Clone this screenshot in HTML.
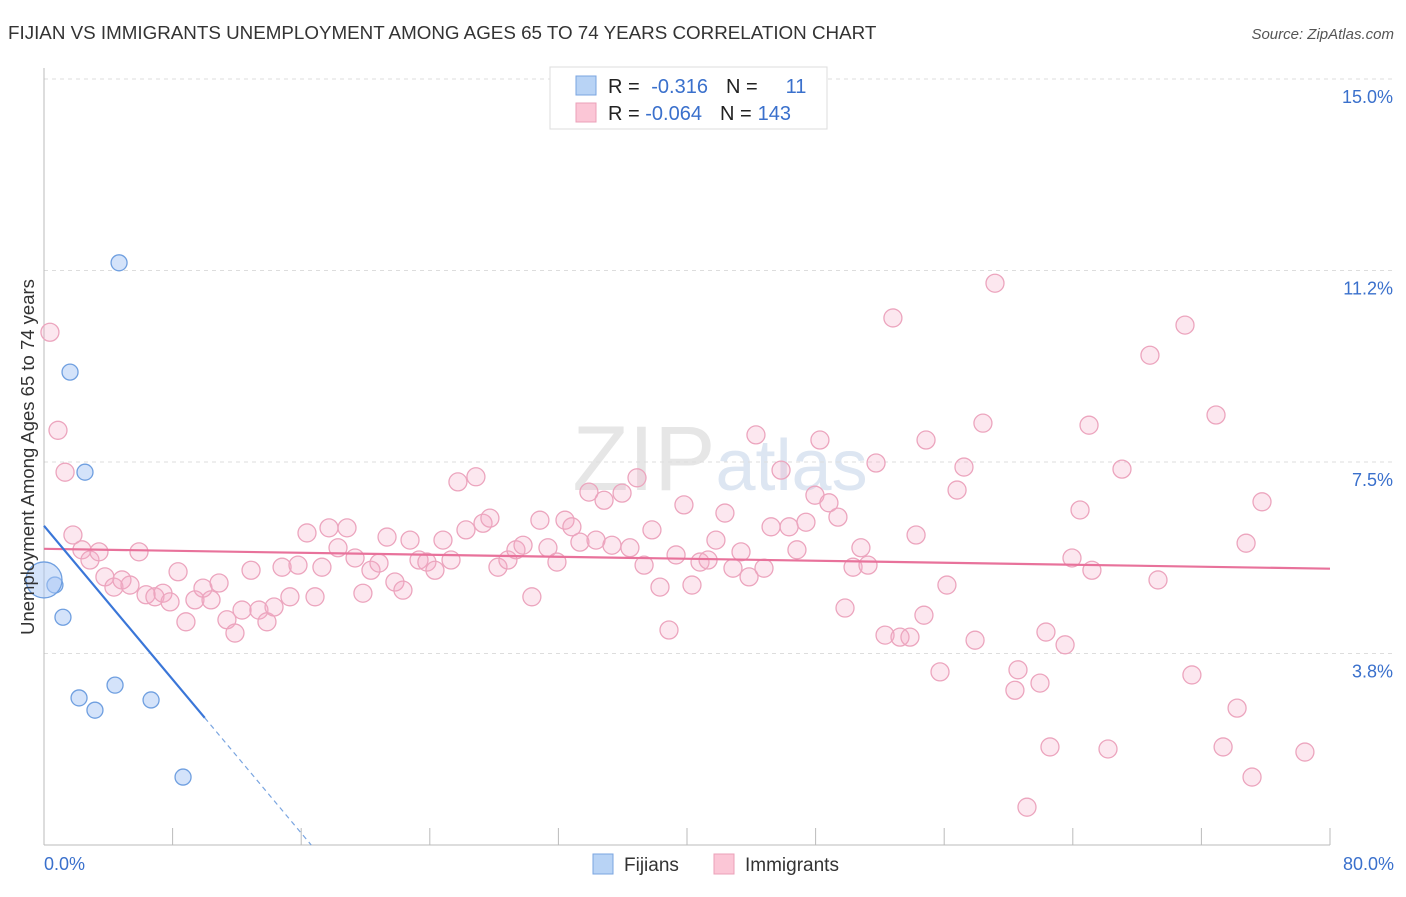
<!DOCTYPE html>
<html><head><meta charset="utf-8"><style>
body{margin:0;background:#fff;font-family:"Liberation Sans",sans-serif;}
svg text{font-family:"Liberation Sans",sans-serif;}
</style></head><body>
<svg id="chart" width="1406" height="892" viewBox="0 0 1406 892" xmlns="http://www.w3.org/2000/svg">
<text x="8" y="39" font-size="18.8" fill="#333">FIJIAN VS IMMIGRANTS UNEMPLOYMENT AMONG AGES 65 TO 74 YEARS CORRELATION CHART</text>
<text x="1394" y="39" font-size="15" fill="#555" font-style="italic" text-anchor="end">Source: ZipAtlas.com</text>
<text x="720" y="490" font-size="92" fill="#e6e6e6" text-anchor="middle" font-family="Liberation Serif">ZIP<tspan fill="#dde6f2" font-family="Liberation Sans" font-size="72">atlas</tspan></text>
<g id="grid"></g>
<g id="axes"></g>
<g id="marks"></g>
<text transform="translate(34,457) rotate(-90)" font-size="18.5" fill="#333" text-anchor="middle">Unemployment Among Ages 65 to 74 years</text>
<g>
<rect x="550" y="67" width="277" height="62" fill="#fff" stroke="#ddd"/>
<rect x="576" y="76" width="20" height="19" fill="#b8d3f5" stroke="#7aa5e0"/>
<rect x="576" y="103" width="20" height="19" fill="#fbc6d6" stroke="#eba0b8"/>
<text x="608" y="93" font-size="20" fill="#222">R = <tspan fill="#3a70cc" dx="6">-0.316</tspan><tspan dx="18" fill="#222">N =</tspan><tspan dx="28" fill="#3a70cc">11</tspan></text>
<text x="608" y="120" font-size="20" fill="#222">R = <tspan fill="#3a70cc">-0.064</tspan><tspan dx="18" fill="#222">N =</tspan><tspan dx="6" fill="#3a70cc">143</tspan></text>
</g>
<g>
<rect x="593" y="854" width="20" height="20" fill="#b8d3f5" stroke="#7aa5e0"/>
<text x="624" y="871" font-size="19" fill="#333">Fijians</text>
<rect x="714" y="854" width="20" height="20" fill="#fbc6d6" stroke="#eba0b8"/>
<text x="745" y="871" font-size="19" fill="#333">Immigrants</text>
</g>
</svg>
<script>
const yTicks=[3.75,7.5,11.25,15];
const yTickLabels=["3.8%","7.5%","11.2%","15.0%"];
const xTickLabels=["0.0%","80.0%"];
const fijX=[0.68,1.18,1.62,2.55,2.18,3.17,4.42,4.67,6.66,8.65];
const fijY=[5.09,4.46,9.26,7.30,2.88,2.64,3.13,11.40,2.84,1.33];
const bigX=[0];const bigY=[5.19];
const immX=[0.37,0.87,1.31,1.80,2.36,2.86,3.42,3.79,4.35,4.85,5.35,5.91,6.35,6.90,7.40,7.84,8.34,8.83,9.39,9.89,10.39,10.89,11.38,11.88,12.32,12.88,13.37,13.87,14.31,14.81,15.30,15.80,16.36,16.86,17.29,17.73,18.29,18.85,19.35,19.84,20.34,20.84,21.34,21.83,22.33,22.77,23.33,23.82,24.32,24.82,25.32,25.75,26.25,26.87,27.31,27.74,28.24,28.86,29.36,29.80,30.35,30.85,31.35,31.91,32.41,32.84,33.34,33.90,34.34,34.84,35.33,35.96,36.45,36.89,37.33,37.82,38.32,38.88,39.32,39.81,40.31,40.81,41.31,41.80,42.36,42.86,43.36,43.86,44.29,44.79,45.23,45.85,46.35,46.84,47.40,47.96,48.27,48.83,49.39,49.83,50.33,50.82,51.26,51.76,52.32,52.81,53.25,53.87,54.25,54.74,54.87,55.74,56.17,56.80,57.23,57.92,58.41,59.16,60.40,60.59,61.15,61.96,62.33,62.58,63.52,63.95,64.45,65.01,65.19,66.19,67.06,68.80,69.30,70.98,71.41,72.91,73.35,74.22,74.78,75.15,75.77,78.44];
const immY=[10.04,8.12,7.30,6.07,5.78,5.58,5.74,5.25,5.05,5.19,5.09,5.74,4.90,4.86,4.93,4.76,5.35,4.37,4.80,5.03,4.80,5.13,4.41,4.15,4.60,5.38,4.60,4.37,4.66,5.44,4.86,5.48,6.11,4.86,5.44,6.21,5.82,6.21,5.62,4.93,5.38,5.52,6.03,5.15,4.99,5.97,5.58,5.54,5.38,5.97,5.58,7.11,6.17,7.21,6.30,6.40,5.44,5.58,5.78,5.87,4.86,6.36,5.82,5.54,6.36,6.23,5.93,6.91,5.97,6.75,5.87,6.89,5.82,7.19,5.48,6.17,5.05,4.21,5.68,6.66,5.09,5.54,5.58,5.97,6.50,5.42,5.74,5.25,8.03,5.42,6.23,7.34,6.23,5.78,6.32,6.85,7.93,6.70,6.42,4.64,5.44,5.82,5.48,7.48,4.11,10.32,4.07,4.07,6.07,4.50,7.93,3.39,5.09,6.95,7.40,4.01,8.26,11.00,3.03,3.43,0.74,3.17,4.17,1.92,3.92,5.62,6.56,8.22,5.38,1.88,7.36,9.59,5.19,10.18,3.33,8.42,1.92,2.68,5.91,1.33,6.72,1.82];
const immTrend=[5.80,5.41];
const fijTrend=[6.25,-0.376];
const NS="http://www.w3.org/2000/svg";
const X=v=>44+v*16.075, Y=v=>845-v*51.07;
function mk(t,a,p){const e=document.createElementNS(NS,t);for(const k in a)e.setAttribute(k,a[k]);p.appendChild(e);return e;}
const grid=document.getElementById('grid'),axes=document.getElementById('axes'),marks=document.getElementById('marks');
yTicks.forEach((t,i)=>{
 const l=mk('line',{x1:44,x2:1394,y1:Y(t),y2:Y(t),stroke:'#ddd','stroke-dasharray':'4,4'},grid);
 
 
 const tx=mk('text',{x:1393,y:Y(t)+24,'font-size':18,fill:'#3a70cc','text-anchor':'end'},axes);
 tx.textContent=yTickLabels[i];
 
 
});
mk('line',{x1:44,x2:44,y1:68,y2:845,stroke:'#bbb'},axes);
mk('line',{x1:44,x2:1330,y1:845,y2:845,stroke:'#bbb'},axes);
for(let i=0;i<=10;i++){const t=mk('line',{x1:X(i*8),x2:X(i*8),y1:828,y2:845,stroke:'#bbb'},axes);
 
 }
[[0,'start',44],[80,'end',1394]].forEach((d,i)=>{const t=mk('text',{x:d[2],y:870,'font-size':18,fill:'#3a70cc','text-anchor':d[1]},axes);t.textContent=xTickLabels[i];
 
 });
immX.forEach((x,i)=>{const c=mk('circle',{cx:X(x),cy:Y(immY[i]),r:9,fill:'rgba(246,170,196,0.28)',stroke:'#eca5be','stroke-width':1.3},marks);
 
 });
fijX.forEach((x,i)=>{const c=mk('circle',{cx:X(x),cy:Y(fijY[i]),r:8,fill:'rgba(170,200,245,0.5)',stroke:'#6f9fe0','stroke-width':1.3},marks);
 
 });
bigX.forEach((x,i)=>{const c=mk('circle',{cx:X(x),cy:Y(bigY[i]),r:18,fill:'rgba(170,200,245,0.5)',stroke:'#6f9fe0','stroke-width':1.3},marks);
 
 });
const tp=mk('line',{x1:X(0),y1:Y(immTrend[0]),x2:X(80),y2:Y(immTrend[1]),stroke:'#e8729b','stroke-width':2.2},marks);


const fy=x=>fijTrend[0]+fijTrend[1]*x;
const tb=mk('line',{x1:X(0),y1:Y(fy(0)),x2:X(10),y2:Y(fy(10)),stroke:'#3a76d8','stroke-width':2.2},marks);


const xe=-fijTrend[0]/fijTrend[1];
const td=mk('line',{x1:X(10),y1:Y(fy(10)),x2:X(xe),y2:Y(0),stroke:'#7aa5e0','stroke-width':1.2,'stroke-dasharray':'5,4'},marks);


</script>
</body></html>
